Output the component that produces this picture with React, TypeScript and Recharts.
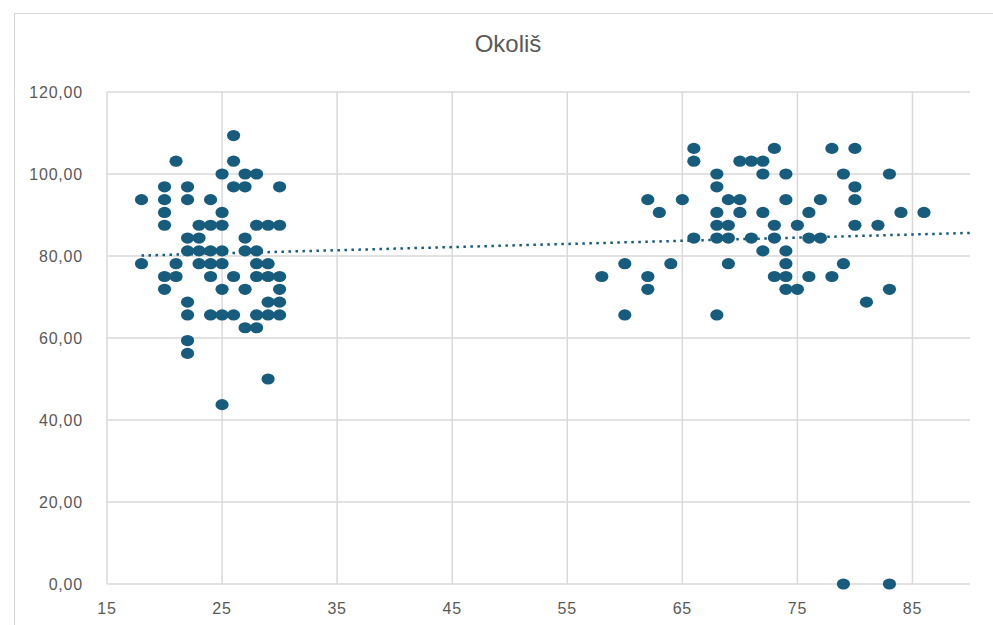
import { ScatterChart, Scatter, XAxis, YAxis, ReferenceLine } from 'recharts'

// younger group (x = age, y = score)
const youngAges = [
  18, 18,
  20, 20, 20, 20, 20, 20,
  21, 21, 21,
  22, 22, 22, 22, 22, 22, 22, 22,
  23, 23, 23, 23,
  24, 24, 24, 24, 24, 24,
  25, 25, 25, 25, 25, 25, 25, 25,
  26, 26, 26, 26, 26,
  27, 27, 27, 27, 27, 27,
  28, 28, 28, 28, 28, 28, 28,
  29, 29, 29, 29, 29, 29,
  30, 30, 30, 30, 30, 30,
]
const youngScores = [
  93.75, 78.13,
  96.88, 93.75, 90.63, 87.5, 75, 71.88,
  103.13, 78.13, 75,
  96.88, 93.75, 84.38, 81.25, 68.75, 65.63, 59.38, 56.25,
  87.5, 84.38, 81.25, 78.13,
  93.75, 87.5, 81.25, 78.13, 75, 65.63,
  100, 90.63, 87.5, 81.25, 78.13, 71.88, 65.63, 43.75,
  109.38, 103.13, 96.88, 75, 65.63,
  100, 96.88, 84.38, 81.25, 71.88, 62.5,
  100, 87.5, 81.25, 78.13, 75, 65.63, 62.5,
  87.5, 78.13, 75, 68.75, 65.63, 50,
  96.88, 87.5, 75, 71.88, 68.75, 65.63,
]

// older group
const oldAges = [
  58,
  60, 60,
  62, 62, 62,
  63, 64, 65,
  66, 66, 66,
  68, 68, 68, 68, 68, 68,
  69, 69, 69, 69,
  70, 70, 70,
  71, 71,
  72, 72, 72, 72,
  73, 73, 73, 73,
  74, 74, 74, 74, 74, 74,
  75, 75,
  76, 76, 76,
  77, 77,
  78, 78,
  79, 79, 79,
  80, 80, 80, 80,
  81, 82,
  83, 83, 83,
  84, 86,
]
const oldScores = [
  75,
  78.13, 65.63,
  93.75, 75, 71.88,
  90.63, 78.13, 93.75,
  106.25, 103.13, 84.38,
  100, 96.88, 90.63, 87.5, 84.38, 65.63,
  93.75, 87.5, 84.38, 78.13,
  103.13, 93.75, 90.63,
  103.13, 84.38,
  103.13, 100, 90.63, 81.25,
  106.25, 87.5, 84.38, 75,
  100, 93.75, 81.25, 78.13, 75, 71.88,
  87.5, 71.88,
  90.63, 84.38, 75,
  93.75, 84.38,
  106.25, 75,
  100, 78.13, 0,
  106.25, 96.88, 93.75, 87.5,
  68.75, 87.5,
  100, 71.88, 0,
  90.63, 90.63,
]

const xTicks = [15, 25, 35, 45, 55, 65, 75, 85]
const yTicks = [0, 20, 40, 60, 80, 100, 120]

const ages = [...youngAges, ...oldAges]
const scores = [...youngScores, ...oldScores]
const points = ages.map((x, i) => ({ x, y: scores[i] }))

// linear trendline (least squares), like Excel's
const n = ages.length
const mx = ages.reduce((a, b) => a + b, 0) / n
const my = scores.reduce((a, b) => a + b, 0) / n
let sxy = 0
let sxx = 0
ages.forEach((x, i) => {
  sxy += (x - mx) * (scores[i] - my)
  sxx += (x - mx) * (x - mx)
})
const slope = sxy / sxx
const intercept = my - slope * mx
const trend = [Math.min(...ages), 90].map((x) => ({ x, y: intercept + slope * x }))

const color = '#175b7d'
const gridColor = '#d9d9d9'
const textColor = '#595959'
const font = '"Liberation Sans", Arial, sans-serif'

const Dot = (props: any) => {
  const { cx, cy } = props
  if (cx == null || cy == null) return null
  return <ellipse cx={cx} cy={cy} rx={6.6} ry={5.6} fill={color} />
}
const NoDot = () => <g />

const fmt = (v: number) => v.toFixed(2).replace('.', ',')

export default function App() {
  return (
    <div style={{ position: 'fixed', left: 0, top: 0, width: 993, height: 625, overflow: 'hidden', background: '#fff' }}>
      <div style={{ position: 'absolute', left: 14, top: 13, width: 1200, height: 900, border: '1px solid #d6d6d6' }} />
      <div
        style={{
          position: 'absolute', left: 308, width: 400, top: 30, textAlign: 'center',
          fontFamily: font, fontSize: 24, color: textColor,
        }}
      >
        Okoliš
      </div>
      <div style={{ position: 'absolute', left: 0, top: 0 }}>
        <ScatterChart width={993} height={625} margin={{ top: 92, right: 23, bottom: 0, left: 0 }}>
          {yTicks.map((t) => (
            <ReferenceLine key={'y' + t} y={t} stroke={gridColor} strokeWidth={1.5} />
          ))}
          {xTicks.map((t) => (
            <ReferenceLine key={'x' + t} x={t} stroke={gridColor} strokeWidth={1.5} />
          ))}
          <XAxis
            type="number"
            dataKey="x"
            domain={[15, 90]}
            ticks={xTicks}
            height={41}
            axisLine={false}
            tickLine={false}
            tickSize={0}
            tickMargin={19}
            tick={{ fill: textColor, fontSize: 16, fontFamily: font, letterSpacing: 0.8 }}
          />
          <YAxis
            type="number"
            dataKey="y"
            domain={[0, 120]}
            ticks={yTicks}
            width={107}
            axisLine={false}
            tickLine={false}
            tickSize={0}
            tickMargin={24}
            tickFormatter={fmt}
            tick={{ fill: textColor, fontSize: 16, fontFamily: font, letterSpacing: 0.8 }}
          />
          <Scatter
            data={trend}
            shape={NoDot}
            line={{ stroke: color, strokeWidth: 2.5, strokeDasharray: '2.5 4.5' }}
            isAnimationActive={false}
          />
          <Scatter data={points} shape={Dot} isAnimationActive={false} />
        </ScatterChart>
      </div>
    </div>
  )
}
